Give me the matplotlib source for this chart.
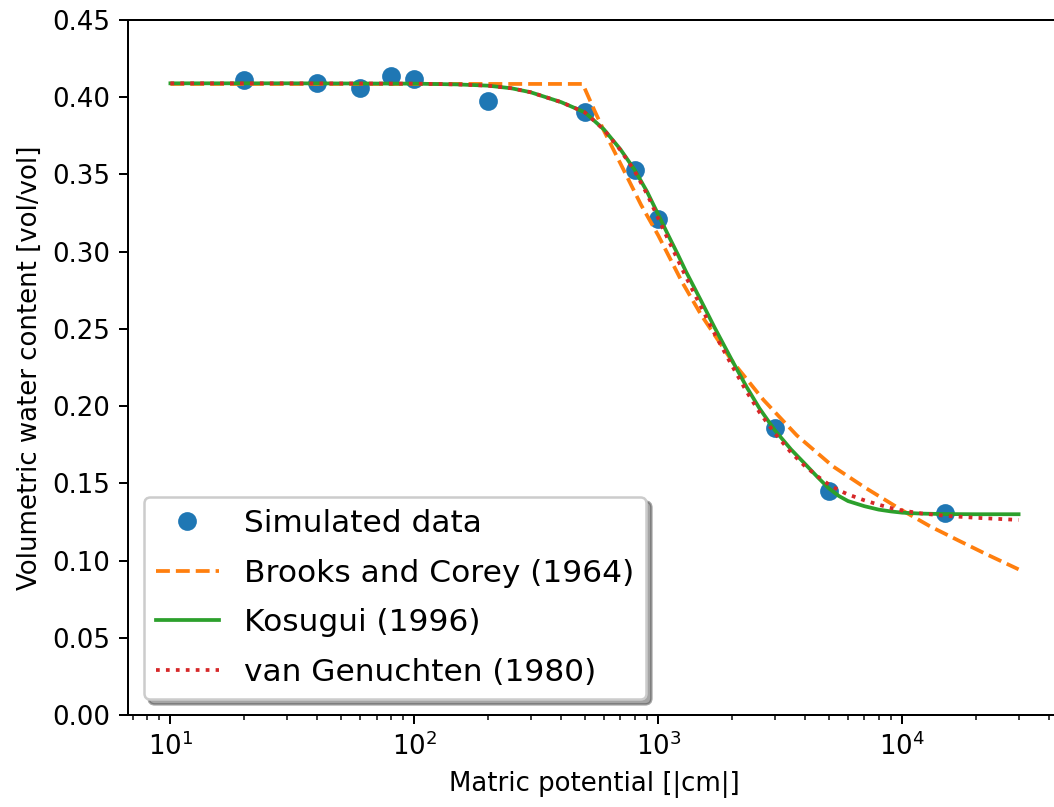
import numpy as np
import matplotlib
matplotlib.use("Agg")
import matplotlib.pyplot as plt

plt.rcParams['font.size'] = 10.4

# simulated retention data
h_data = [20, 40, 60, 80, 100, 200, 500, 800, 1000, 3000, 5000, 15000]
theta_data = [0.4111, 0.4094, 0.4058, 0.4137, 0.4116, 0.3977, 0.3906,
              0.3529, 0.3210, 0.1856, 0.1450, 0.1306]

# fitted curves
bc_h = [10, 490, 550, 600, 700, 850, 1000, 1250, 1500, 2000, 2700, 3700,
        5200, 7000, 10000, 13000, 17000, 22000, 30000]
bc_theta = [0.4086, 0.4086, 0.3907, 0.3780, 0.3570, 0.3303, 0.3105, 0.2805,
            0.2590, 0.2295, 0.2040, 0.1810, 0.1610, 0.1475, 0.1325, 0.1222,
            0.1130, 0.1043, 0.0943]

kos_h = [10, 30, 100, 150, 200, 250, 300, 400, 500, 600, 700, 800, 900, 1000,
         1100, 1200, 1300, 1500, 1700, 2000, 2300, 2600, 3000, 3500, 4000,
         4500, 5000, 5500, 6000, 7000, 8000, 9000, 10000, 12000, 15000,
         20000, 30000]
kos_theta = [0.409, 0.409, 0.4088, 0.4083, 0.4075, 0.4058, 0.4032, 0.3968,
             0.3902, 0.3790, 0.3662, 0.3530, 0.3388, 0.3240, 0.3105, 0.2985,
             0.2870, 0.2680, 0.2510, 0.2300, 0.2125, 0.1985, 0.1845, 0.1720,
             0.1625, 0.1540, 0.1468, 0.1418, 0.1385, 0.1352, 0.1330, 0.1318,
             0.1310, 0.1304, 0.1301, 0.1300, 0.1300]

vg_h = [10, 30, 100, 150, 200, 250, 300, 400, 500, 600, 700, 800, 900, 1000,
        1100, 1200, 1300, 1500, 1700, 2000, 2300, 2600, 3000, 3500, 4000,
        4500, 5000, 5500, 6000, 7000, 8000, 9000, 10000, 12000, 15000,
        20000, 30000]
vg_theta = [0.409, 0.409, 0.4088, 0.4083, 0.4075, 0.4058, 0.4032, 0.3968,
            0.3902, 0.3788, 0.3657, 0.3522, 0.3372, 0.3215, 0.3075, 0.2950,
            0.2835, 0.2640, 0.2470, 0.2265, 0.2095, 0.1960, 0.1825, 0.1700,
            0.1610, 0.1545, 0.1493, 0.1455, 0.1428, 0.1390, 0.1362, 0.1340,
            0.1324, 0.1305, 0.1290, 0.1277, 0.1263]

fig = plt.figure(figsize=(1054 / 180, 807 / 180), dpi=180)
ax = fig.add_axes([128 / 1054, 92 / 807, 933 / 1054, 695 / 807])

ax.plot(h_data, theta_data, 'o', color='C0', markersize=6.5, label='Simulated data')
ax.plot(bc_h, bc_theta, '--', color='C1', label='Brooks and Corey (1964)')
ax.plot(kos_h, kos_theta, '-', color='C2', label='Kosugui (1996)')
ax.plot(vg_h, vg_theta, ':', color='C3', label='van Genuchten (1980)')

ax.set_xscale('log')
ax.set_ylim(0, 0.45)
ax.set_xlabel('Matric potential [|cm|]')
ax.set_ylabel('Volumetric water content [vol/vol]')
ax.legend(loc='lower left', shadow=True, fontsize=12.5, labelspacing=0.66)

fig.savefig('out.png', dpi=180)
